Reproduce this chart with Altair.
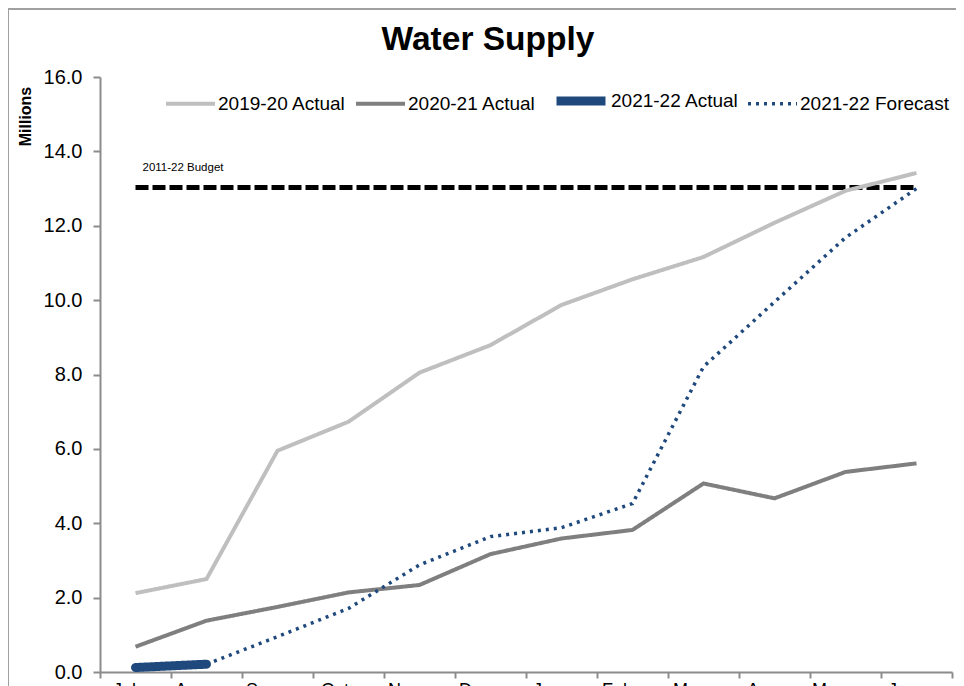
import altair as alt
import pandas as pd

months = ["Jul", "Aug", "Sep", "Oct", "Nov", "Dec", "Jan", "Feb", "Mar", "Apr", "May", "Jun"]
series_names = ["2019-20 Actual", "2020-21 Actual", "2021-22 Actual", "2021-22 Forecast"]
actual_1920 = [2.12, 2.50, 5.95, 6.73, 8.05, 8.79, 9.87, 10.56, 11.16, 12.08, 12.94, 13.42]
actual_2021 = [0.68, 1.38, 1.75, 2.14, 2.34, 3.17, 3.59, 3.82, 5.07, 4.67, 5.38, 5.61]
actual_2122 = [0.12, 0.21]
forecast_2122 = [None, 0.21, 0.95, 1.71, 2.88, 3.64, 3.88, 4.53, 8.21, 9.95, 11.68, 13.00]
budget_value = 13.03
budget_label = "2011-22 Budget"
y_ticks = [0, 2, 4, 6, 8, 10, 12, 14, 16]

colors = ["#BFBFBF", "#7F7F7F", "#1F497D", "#1F497D"]
widths = [4, 4, 9, 3.5]
dashes = [[1, 0], [1, 0], [1, 0], [3, 5]]

rows = []
for name, vals in zip(series_names, [actual_1920, actual_2021, actual_2122, forecast_2122]):
    for m, v in zip(months, vals):
        if v is not None:
            rows.append({"month": m, "series": name, "value": v})
df = pd.DataFrame(rows)
budget_df = pd.DataFrame({"month": months, "value": [budget_value] * len(months)})
label_df = pd.DataFrame({"month": [months[0]], "value": [budget_value], "label": [budget_label]})

FONT = "Liberation Sans"

x_enc = alt.X(
    "month:O",
    sort=months,
    scale=alt.Scale(type="band", domain=months, paddingInner=0, paddingOuter=0),
    bandPosition=0.5,
    axis=alt.Axis(
        title=None, tickBand="extent", labelAngle=0, labelFontSize=18, labelFont=FONT,
        labelColor="#000000", labelPadding=12, tickSize=6, tickColor="#8C8C8C", tickWidth=2,
        domainColor="#8C8C8C", domainWidth=2, grid=False,
    ),
)
y_enc = alt.Y(
    "value:Q",
    scale=alt.Scale(domain=[0, 16], nice=False),
    axis=alt.Axis(
        values=y_ticks, format=".1f", title="Millions", titleAngle=270, titleX=-75, titleY=39,
        titleAlign="center", titleBaseline="middle", titleFontSize=16, titleFontWeight="bold",
        titleFont=FONT, titleColor="#000000",
        labelFontSize=20, labelFont=FONT, labelColor="#000000", labelPadding=11,
        tickSize=7, tickColor="#8C8C8C", tickWidth=2, domainColor="#8C8C8C", domainWidth=2, grid=False,
    ),
)

color_scale = alt.Scale(domain=series_names, range=colors)
width_scale = alt.Scale(type="ordinal", domain=series_names, range=widths)
dash_scale = alt.Scale(domain=series_names, range=dashes)
legend = alt.Legend(
    title=None, orient="none", legendX=64, legendY=-5, direction="horizontal",
    symbolType="stroke", symbolSize=2401, labelFontSize=19, labelFont=FONT, labelColor="#000000",
    labelOffset=1, columnPadding=2, padding=0, labelLimit=300,
)

enc = dict(
    x=x_enc,
    y=y_enc,
    color=alt.Color("series:N", scale=color_scale, legend=legend),
    strokeWidth=alt.StrokeWidth("series:N", scale=width_scale, legend=legend),
    strokeDash=alt.StrokeDash("series:N", scale=dash_scale, legend=legend),
    detail="series:N",
)

lines_a = alt.Chart(df).transform_filter(
    alt.datum.series != "2021-22 Actual"
).mark_line(strokeCap="butt").encode(**enc)
lines_b = alt.Chart(df).transform_filter(
    alt.datum.series == "2021-22 Actual"
).mark_line(strokeCap="round").encode(**enc)

budget = alt.Chart(budget_df).mark_line(color="#000000", strokeWidth=5, strokeDash=[13, 4]).encode(
    x=alt.X("month:O", sort=months, bandPosition=0.5), y="value:Q"
)
budget_text = alt.Chart(label_df).mark_text(
    align="left", baseline="middle", dx=7, dy=-19, fontSize=11.5, font=FONT, color="#000000"
).encode(x=alt.X("month:O", sort=months, bandPosition=0.5), y="value:Q", text="label:N")

frame_left = alt.Chart(label_df).mark_rule(color="#A0A0A0", strokeWidth=2).encode(
    x=alt.value(-92), y=alt.value(-68), y2=alt.value(700)
)
frame_top = alt.Chart(label_df).mark_rule(color="#A0A0A0", strokeWidth=2).encode(
    x=alt.value(-92), x2=alt.value(870), y=alt.value(-68)
)

chart = alt.layer(frame_left, frame_top, budget, lines_a, lines_b, budget_text).properties(
    width=852,
    height=595,
    padding={"left": 92, "top": 69, "right": 4, "bottom": 14},
    autosize=alt.AutoSizeParams(type="none"),
    title=alt.Title(
        "Water Supply", fontSize=33.5, fontWeight="bold", font=FONT, color="#000000",
        anchor="middle", frame="group", dx=-38, offset=0, baseline="alphabetic", dy=75,
    ),
).configure_view(strokeWidth=0)

chart.save("out.html", embed_options={"renderer": "svg", "actions": False})
